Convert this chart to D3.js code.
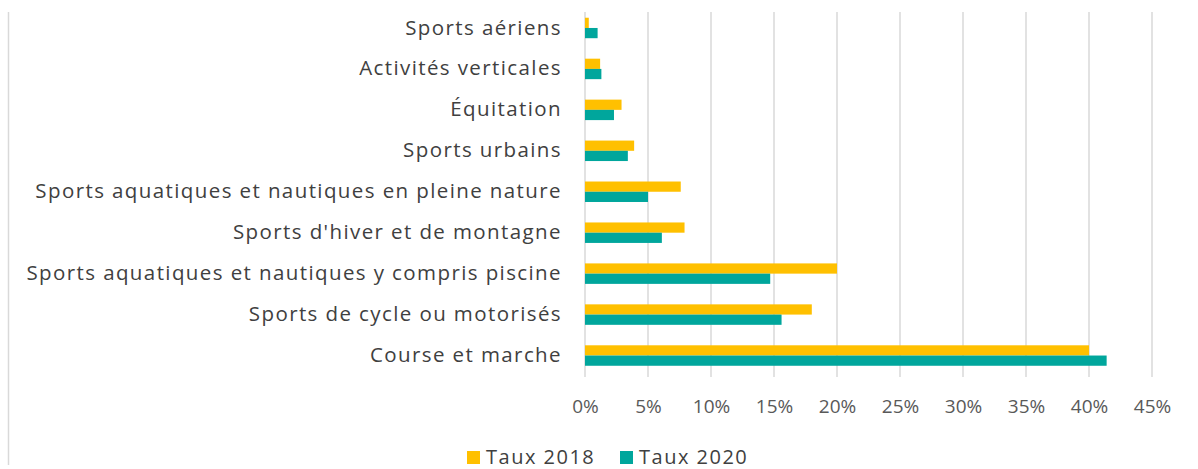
<!DOCTYPE html>
<html>
<head>
<meta charset="utf-8">
<script src="https://d3js.org/d3.v7.min.js"></script>
<style>
  body { margin: 0; background: #fff; }
  text { font-family: "Open Sans", sans-serif; }
</style>
</head>
<body>
<svg id="chart"></svg>
<script>
var width = 1198;
var height = 469;

var margin = {
  top: 7.5,
  left: 585,
  right: 46,
  bottom: 93
};

var categories = [
  "Sports aériens",
  "Activités verticales",
  "Équitation",
  "Sports urbains",
  "Sports aquatiques et nautiques en pleine nature",
  "Sports d'hiver et de montagne",
  "Sports aquatiques et nautiques y compris piscine",
  "Sports de cycle ou motorisés",
  "Course et marche"
];

var series = ["Taux 2018", "Taux 2020"];
var taux2018 = [0.3, 1.2, 2.9, 3.9, 7.6, 7.9, 20.0, 18.0, 40.0];
var taux2020 = [1.0, 1.3, 2.3, 3.4, 5.0, 6.1, 14.7, 15.6, 41.4];
var ticks = [0, 5, 10, 15, 20, 25, 30, 35, 40, 45];

var colors = ["#FFC000", "#00A69C"];

var data = categories.map(function(c, i) {
  return {cat: c, values: [taux2018[i], taux2020[i]]};
});

var svg = d3.select("#chart").attr("width", width).attr("height", height);

var xScale = d3.scaleLinear()
.domain([0, 45])
.range([margin.left, width - margin.right]);

var yScale = d3.scaleBand()
.domain(categories)
.range([margin.top, height - margin.bottom])
.paddingInner(0.5)
.paddingOuter(0.25);

var subScale = d3.scaleBand()
.domain([0, 1])
.range([0, yScale.bandwidth()]);

// left frame line
svg.append("line")
.attr("x1", 8.5).attr("x2", 8.5)
.attr("y1", 12).attr("y2", 465)
.attr("stroke", "#d9d9d9")
.attr("stroke-width", 1.5);

// grid
svg.append("g")
.selectAll("line")
.data(ticks)
.enter()
.append("line")
.attr("x1", function(d) {return xScale(d);})
.attr("x2", function(d) {return xScale(d);})
.attr("y1", 12)
.attr("y2", 377)
.attr("stroke", "#d9d9d9")
.attr("stroke-width", 1.5);

// bars
var group = svg.selectAll("g.cat")
.data(data)
.enter()
.append("g")
.attr("class", "cat")
.attr("transform", function(d) {return `translate(0, ${yScale(d.cat)})`;});

group.selectAll("rect")
.data(function(d) {return d.values;})
.enter()
.append("rect")
.attr("x", xScale(0))
.attr("y", function(d, i) {return subScale(i);})
.attr("width", function(d) {return xScale(d) - xScale(0);})
.attr("height", subScale.bandwidth())
.attr("fill", function(d, i) {return colors[i];});

// category labels
var yAxis = svg.append("g")
.attr("transform", `translate(${margin.left - 23},0)`)
.call(d3.axisLeft(yScale).tickSize(0).tickPadding(0));
yAxis.select(".domain").remove();
yAxis.selectAll("text")
.attr("font-size", 20.5)
.attr("letter-spacing", 1.4)
.attr("fill", "#404040");

// x axis labels
var xAxis = svg.append("g")
.attr("transform", `translate(0, 399)`)
.call(d3.axisBottom(xScale).tickValues(ticks).tickSize(0).tickPadding(0)
      .tickFormat(function(d) {return d + "%";}));
xAxis.select(".domain").remove();
xAxis.selectAll("text")
.attr("font-size", 19)
.attr("fill", "#595959");

// legend
var legendX = [467, 620];
var legend = svg.append("g")
.selectAll("g")
.data(series)
.enter()
.append("g")
.attr("transform", function(d, i) {return `translate(${legendX[i]}, 451)`;});

legend.append("rect")
.attr("width", 13)
.attr("height", 13)
.attr("fill", function(d, i) {return colors[i];});

legend.append("text")
.attr("x", 19)
.attr("y", 13)
.attr("font-size", 20)
.attr("letter-spacing", 1.5)
.attr("fill", "#404040")
.text(function(d) {return d;});
</script>
</body>
</html>
